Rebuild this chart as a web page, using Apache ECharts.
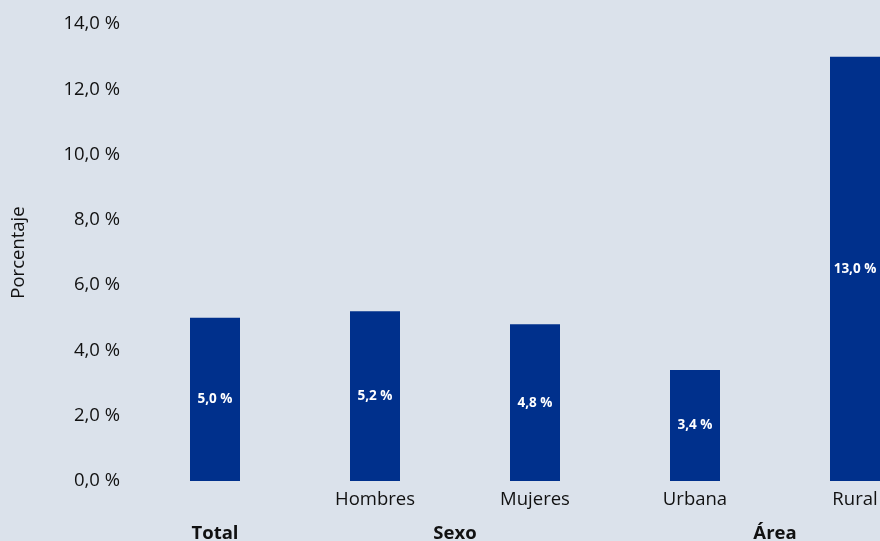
<!DOCTYPE html>
<html>
<head>
<meta charset="utf-8">
<script src="https://cdn.jsdelivr.net/npm/echarts@6/dist/echarts.min.js"></script>
<style>
  html, body { margin: 0; padding: 0; background: #dbe2eb; }
  #chart { width: 880px; height: 541px; }
</style>
</head>
<body>
<div id="chart"></div>
<script>
// Categorías y valores (porcentaje)
const categories = ['', 'Hombres', 'Mujeres', 'Urbana', 'Rural'];
const values = [5.0, 5.2, 4.8, 3.4, 13.0];
// Etiquetas de grupo bajo el eje (una posición cada media categoría)
const groupLabels = ['', 'Total', '', '', 'Sexo', '', '', '', 'Área', '', ''];
const yTicks = { min: 0, max: 14, interval: 2 };

const fmt = v => v.toFixed(1).replace('.', ',') + ' %';
const FONT = '"Open Sans", "Noto Sans", sans-serif';

const chart = echarts.init(document.getElementById('chart'), null, { renderer: 'canvas' });
chart.setOption({
  backgroundColor: '#dbe2eb',
  animation: false,
  textStyle: { fontFamily: FONT },
  grid: { left: 135, top: 24, width: 800, bottom: 60, containLabel: false, outerBoundsMode: 'none' },
  xAxis: [
    {
      type: 'category',
      data: categories,
      axisLine: { show: false },
      axisTick: { show: false },
      axisLabel: { interval: 0, color: '#111', fontSize: 18.5, fontFamily: FONT, margin: 9 }
    },
    {
      type: 'category',
      data: groupLabels,
      position: 'bottom',
      boundaryGap: false,
      axisLine: { show: false },
      axisTick: { show: false },
      splitLine: { show: false },
      axisLabel: { interval: 0, color: '#111', fontSize: 18.5, fontWeight: 'bold', fontFamily: FONT, margin: 43 }
    }
  ],
  yAxis: {
    type: 'value',
    min: yTicks.min,
    max: yTicks.max,
    interval: yTicks.interval,
    name: 'Porcentaje',
    nameLocation: 'middle',
    nameGap: 107,
    nameTextStyle: { color: '#111', fontSize: 18.5, fontFamily: FONT },
    axisLine: { show: false },
    axisTick: { show: false },
    splitLine: { show: false },
    axisLabel: { formatter: v => fmt(v), color: '#111', fontSize: 18.5, fontFamily: FONT, margin: 15 }
  },
  series: [{
    type: 'bar',
    data: values,
    barWidth: 50,
    itemStyle: { color: '#00308c' },
    label: {
      show: true,
      position: 'inside',
      formatter: p => fmt(p.value),
      color: '#ffffff',
      fontSize: 13.5,
      fontWeight: 'bold',
      fontFamily: FONT
    }
  }]
});
</script>
</body>
</html>
